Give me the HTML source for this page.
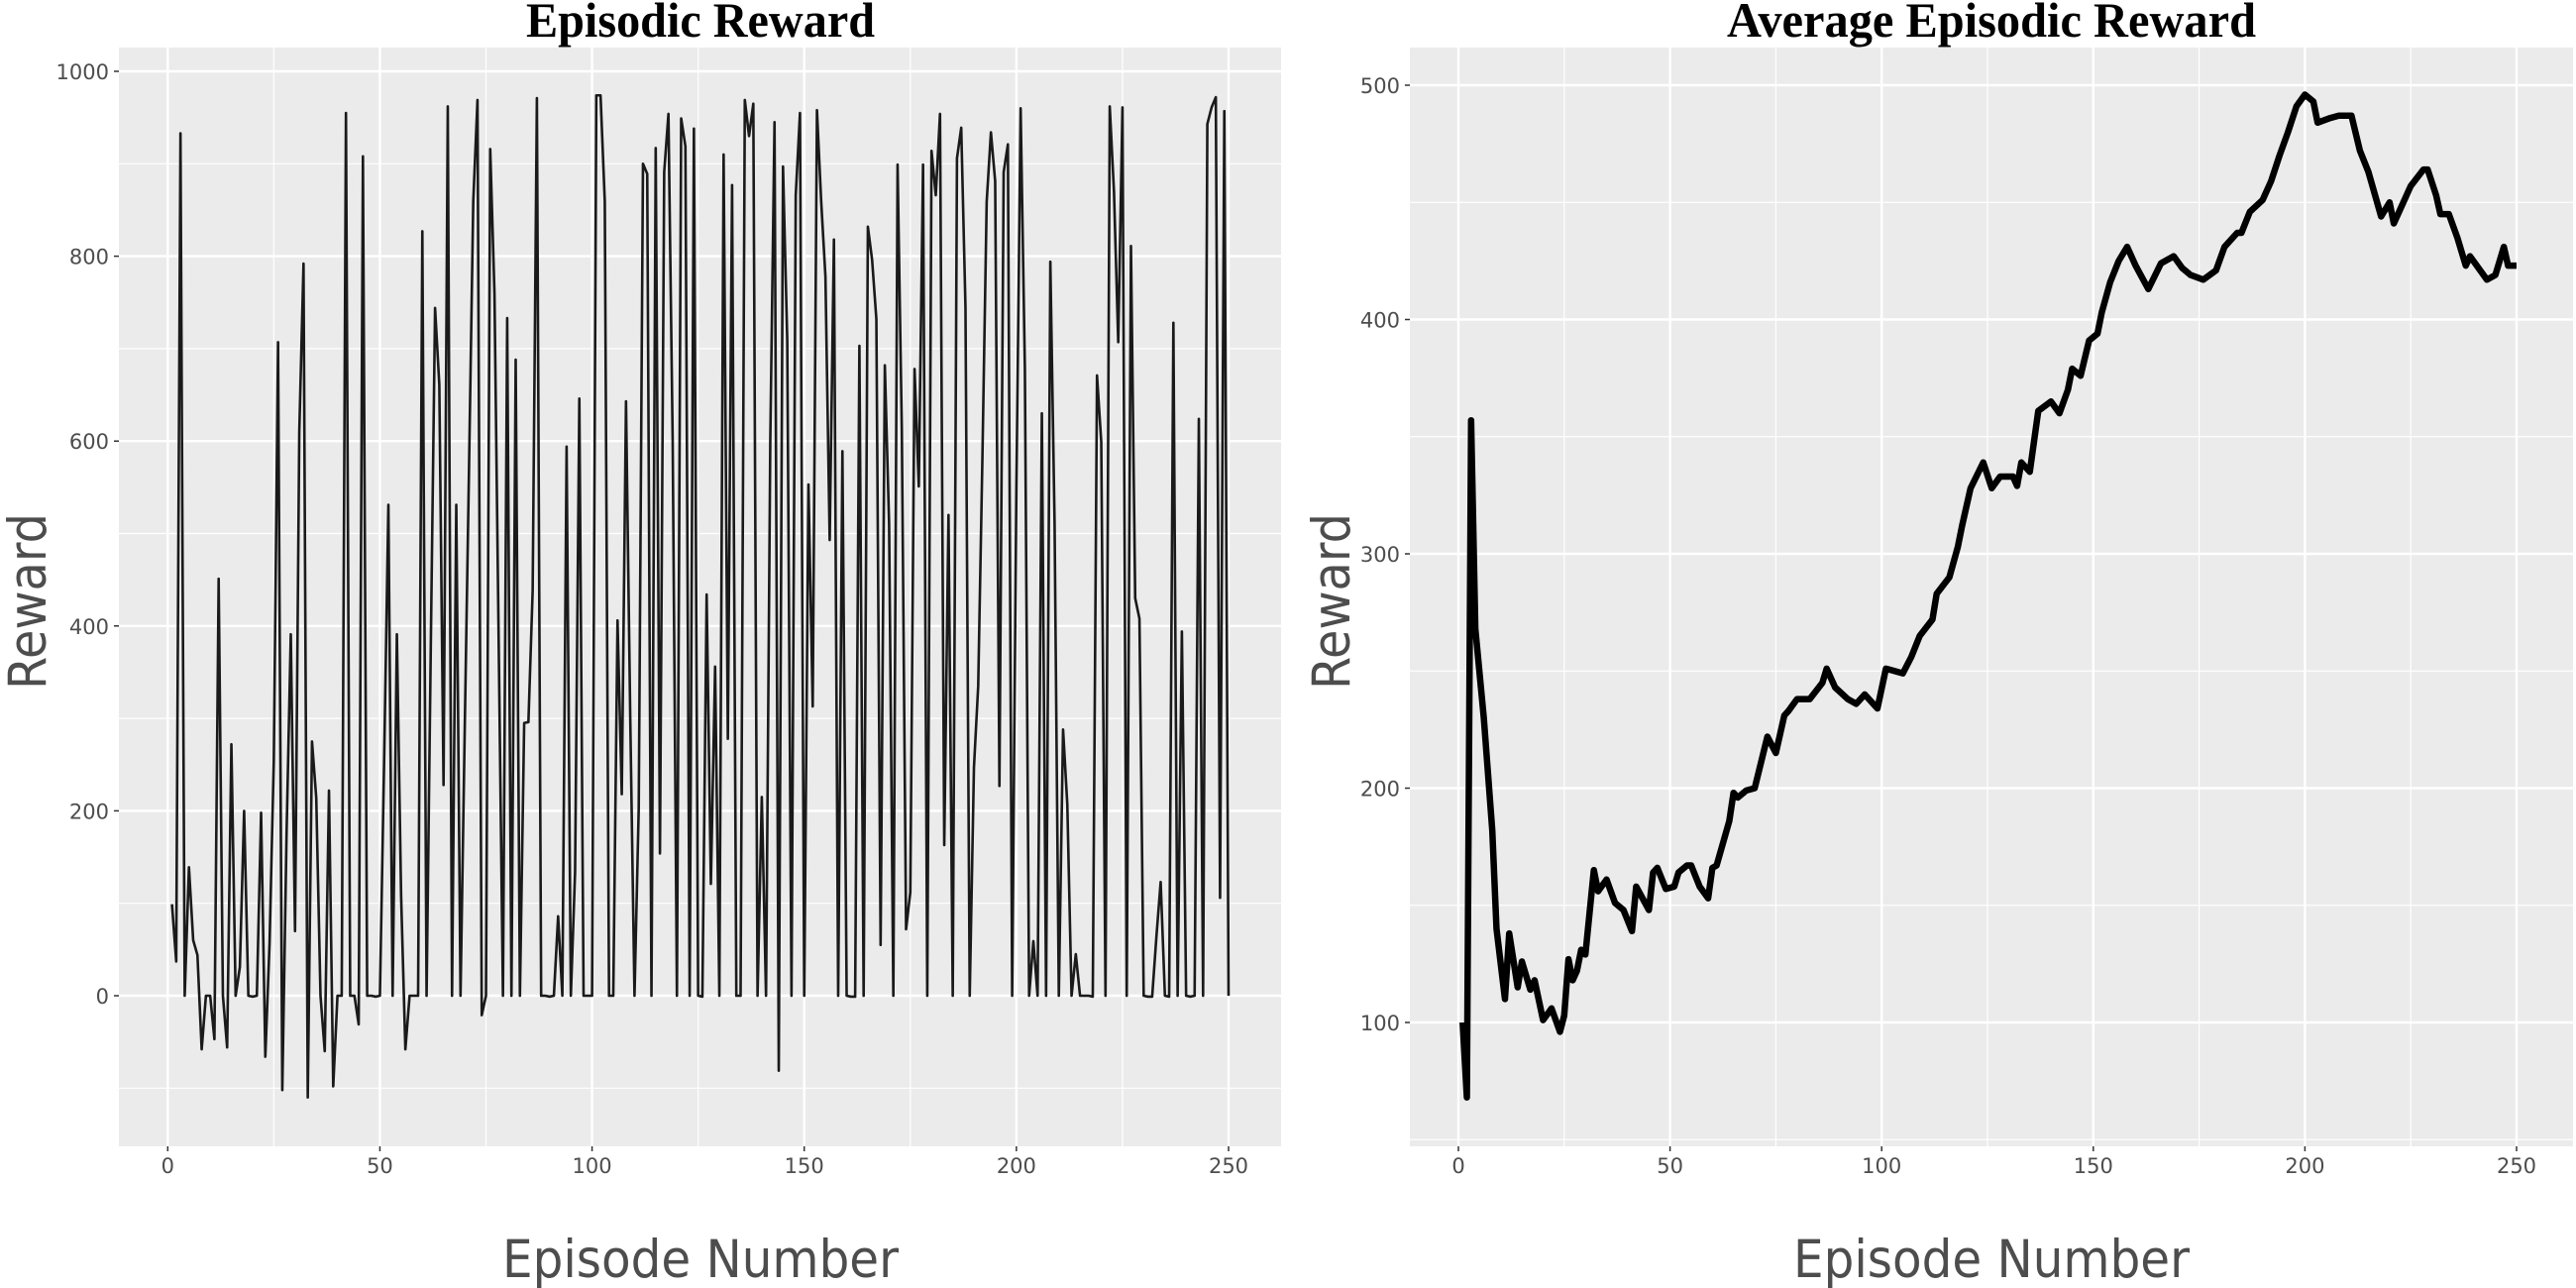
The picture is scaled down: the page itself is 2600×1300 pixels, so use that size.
<!DOCTYPE html>
<html><head><meta charset="utf-8">
<style>
html,body{margin:0;padding:0;background:#fff;}
svg{display:block;}
.tick{font-family:"DejaVu Sans","Liberation Sans",sans-serif;font-size:21px;fill:#4d4d4d;}
.atitle{font-family:"DejaVu Sans","Liberation Sans",sans-serif;font-size:53px;fill:#4d4d4d;}
.ptitle{font-family:"Liberation Serif",serif;font-weight:bold;font-size:50px;fill:#000;}
</style></head>
<body>
<svg id="chart" width="2600" height="1300" viewBox="0 0 2600 1300" xmlns="http://www.w3.org/2000/svg"></svg>
<script>
// Episodic reward per episode (episodes 1..250)
const rewards = [99,37,933,0,139,60,44,-58,0,0,-47,451,0,-56,272,0,31,200,0,-1,
0,198,-66,57,255,707,-102,174,391,70,610,792,-110,275,214,0,-60,222,-98,0,
0,955,0,0,-31,908,0,0,-1,0,255,531,0,391,108,-58,0,0,0,827,
0,380,744,661,228,962,0,531,0,290,570,859,969,-21,0,916,760,380,0,733,
0,688,0,295,296,438,971,0,0,-1,0,86,0,594,0,134,646,0,0,0,
974,974,859,0,0,406,218,643,300,0,203,900,889,0,917,154,891,954,600,0,
949,919,0,938,0,-1,434,121,356,0,910,278,877,0,0,969,930,965,0,215,
0,600,945,-81,897,709,0,866,955,0,553,313,958,859,778,493,818,0,589,0,
-1,-1,703,0,832,796,732,55,682,511,0,899,613,72,112,678,551,899,0,914,
866,954,163,520,0,906,939,745,0,247,335,584,859,934,881,227,891,921,0,550,
960,679,0,59,0,630,0,794,511,0,288,207,0,45,0,0,0,-1,671,599,
0,962,870,707,961,0,811,430,408,0,-1,-1,64,123,0,-1,728,0,394,0,
-1,0,624,0,943,961,972,106,957,0];
// Average episodic reward (read at sampled episodes)
const avgEpisodes = [1,2,3,4,6,8,9,11,12,14,15,17,18,20,22,24,25,26,27,28,29,30,32,33,35,37,39,41,42,45,46,47,49,51,52,54,55,57,59,60,61,64,65,66,68,70,73,75,77,78,80,81,83,86,87,89,92,94,96,99,101,105,107,109,112,113,116,118,119,121,124,126,128,131,132,133,135,137,140,142,144,145,147,149,151,152,154,156,158,160,163,166,169,171,173,176,179,181,184,185,187,190,192,194,196,198,200,202,203,206,208,211,213,215,218,220,221,223,225,228,229,231,232,234,236,238,239,243,245,247,248,250];
const avgValues = [100,68,357,268,230,182,140,110,138,115,126,114,118,101,106,96,103,127,118,122,131,129,165,156,161,151,148,139,158,148,164,166,157,158,164,167,167,158,153,166,167,186,198,196,199,200,222,215,231,233,238,238,238,245,251,243,238,236,240,234,251,249,256,265,272,283,290,303,312,328,339,328,333,333,329,339,335,361,365,360,370,379,376,391,394,403,416,425,431,423,413,424,427,422,419,417,421,431,437,437,446,451,459,470,480,491,496,493,484,486,487,487,472,463,444,450,441,449,457,464,464,453,445,445,435,423,427,417,419,431,423,423];
const xTicks = [0,50,100,150,200,250];
const leftYTicks = [0,200,400,600,800,1000];
const rightYTicks = [100,200,300,400,500];

const NS = "http://www.w3.org/2000/svg";
const svg = document.getElementById('chart');
function mk(tag, attrs, parent){
  const e = document.createElementNS(NS, tag);
  for (const k in attrs) e.setAttribute(k, attrs[k]);
  (parent||svg).appendChild(e);
  return e;
}
function linScale(d0,d1,r0,r1){ return v => r0 + (v-d0)*(r1-r0)/(d1-d0); }

function panel(cfg){
  const g = mk('g', {});
  
  
  const bg = mk('rect', {x:cfg.x0, y:cfg.y0, width:cfg.x1-cfg.x0, height:cfg.y1-cfg.y0, fill:'#ebebeb'}, g);
  
  
  const xs = cfg.xs, ys = cfg.ys;
  for (let i=0;i<cfg.yTicks.length+1;i++){
    const step = cfg.yTicks[1]-cfg.yTicks[0];
    const v = cfg.yTicks[0] - step/2 + i*step;
    const y = ys(v);
    if (y < cfg.y0 || y > cfg.y1) continue;
    const l = mk('line', {x1:cfg.x0, x2:cfg.x1, y1:y, y2:y, stroke:'#fff', 'stroke-width':1.2}, g);
    
    
  }
  for (let i=0;i<xTicks.length-1;i++){
    const x = xs((xTicks[i]+xTicks[i+1])/2);
    const l = mk('line', {x1:x, x2:x, y1:cfg.y0, y2:cfg.y1, stroke:'#fff', 'stroke-width':1.2}, g);
    
    
  }
  cfg.yTicks.forEach(v => {
    const y = ys(v);
    const l = mk('line', {x1:cfg.x0, x2:cfg.x1, y1:y, y2:y, stroke:'#fff', 'stroke-width':2.4}, g);
    
    
    const tm = mk('line', {x1:cfg.x0-5, x2:cfg.x0, y1:y, y2:y, stroke:'#333', 'stroke-width':1.5}, g);
    
    
    const t = mk('text', {x:cfg.x0-10, y:y+8, 'text-anchor':'end', class:'tick'}, g);
    t.textContent = v;
    
    
  });
  xTicks.forEach(v => {
    const x = xs(v);
    const l = mk('line', {x1:x, x2:x, y1:cfg.y0, y2:cfg.y1, stroke:'#fff', 'stroke-width':2.4}, g);
    
    
    const tm = mk('line', {x1:x, x2:x, y1:cfg.y1, y2:cfg.y1+5, stroke:'#333', 'stroke-width':1.5}, g);
    
    
    const t = mk('text', {x:x, y:cfg.y1+27, 'text-anchor':'middle', class:'tick'}, g);
    t.textContent = v;
    
    
  });
  let d = '';
  cfg.xsData.forEach((ep,i) => { d += (i? 'L':'M') + xs(ep).toFixed(2) + ' ' + ys(cfg.ysData[i]).toFixed(2); });
  const p = mk('path', {d:d, fill:'none', stroke:cfg.color, 'stroke-width':cfg.lw, 'stroke-linejoin':'round'}, g);
  
  
  const tt = mk('text', {x:cfg.titleX, y:37, 'text-anchor':'middle', class:'ptitle', textLength:cfg.titleW, lengthAdjust:'spacingAndGlyphs'}, g);
  tt.textContent = cfg.title;
  
  
  const xt = mk('text', {x:cfg.xtX, y:1289, 'text-anchor':'middle', class:'atitle', textLength:400, lengthAdjust:'spacingAndGlyphs'}, g);
  xt.textContent = 'Episode Number';
  
  
  const yt = mk('text', {x:0, y:0, 'text-anchor':'middle', class:'atitle', textLength:178, lengthAdjust:'spacingAndGlyphs', transform:'translate('+cfg.ytX+',607) rotate(-90)'}, g);
  yt.textContent = 'Reward';
  
  
}

const episodes = rewards.map((_,i)=>i+1);
panel({name:'episodic-reward-panel', x0:120, x1:1293, y0:48, y1:1157,
  xs: linScale(0,250,169.3,1240), ys: linScale(0,1000,1005,72),
  yTicks:leftYTicks, xsData:episodes, ysData:rewards, color:'#1a1a1a', lw:2.6,
  seriesName:'episodic-reward-line', title:'Episodic Reward', titleX:707, titleW:352,
  xtX:707, ytX:46});
panel({name:'average-reward-panel', x0:1423, x1:2597, y0:48, y1:1157,
  xs: linScale(0,250,1472,2540), ys: linScale(100,500,1032,86),
  yTicks:rightYTicks, xsData:avgEpisodes, ysData:avgValues, color:'#000', lw:6.5,
  seriesName:'average-reward-line', title:'Average Episodic Reward', titleX:2010, titleW:534,
  xtX:2010, ytX:1362});
</script>
</body></html>
